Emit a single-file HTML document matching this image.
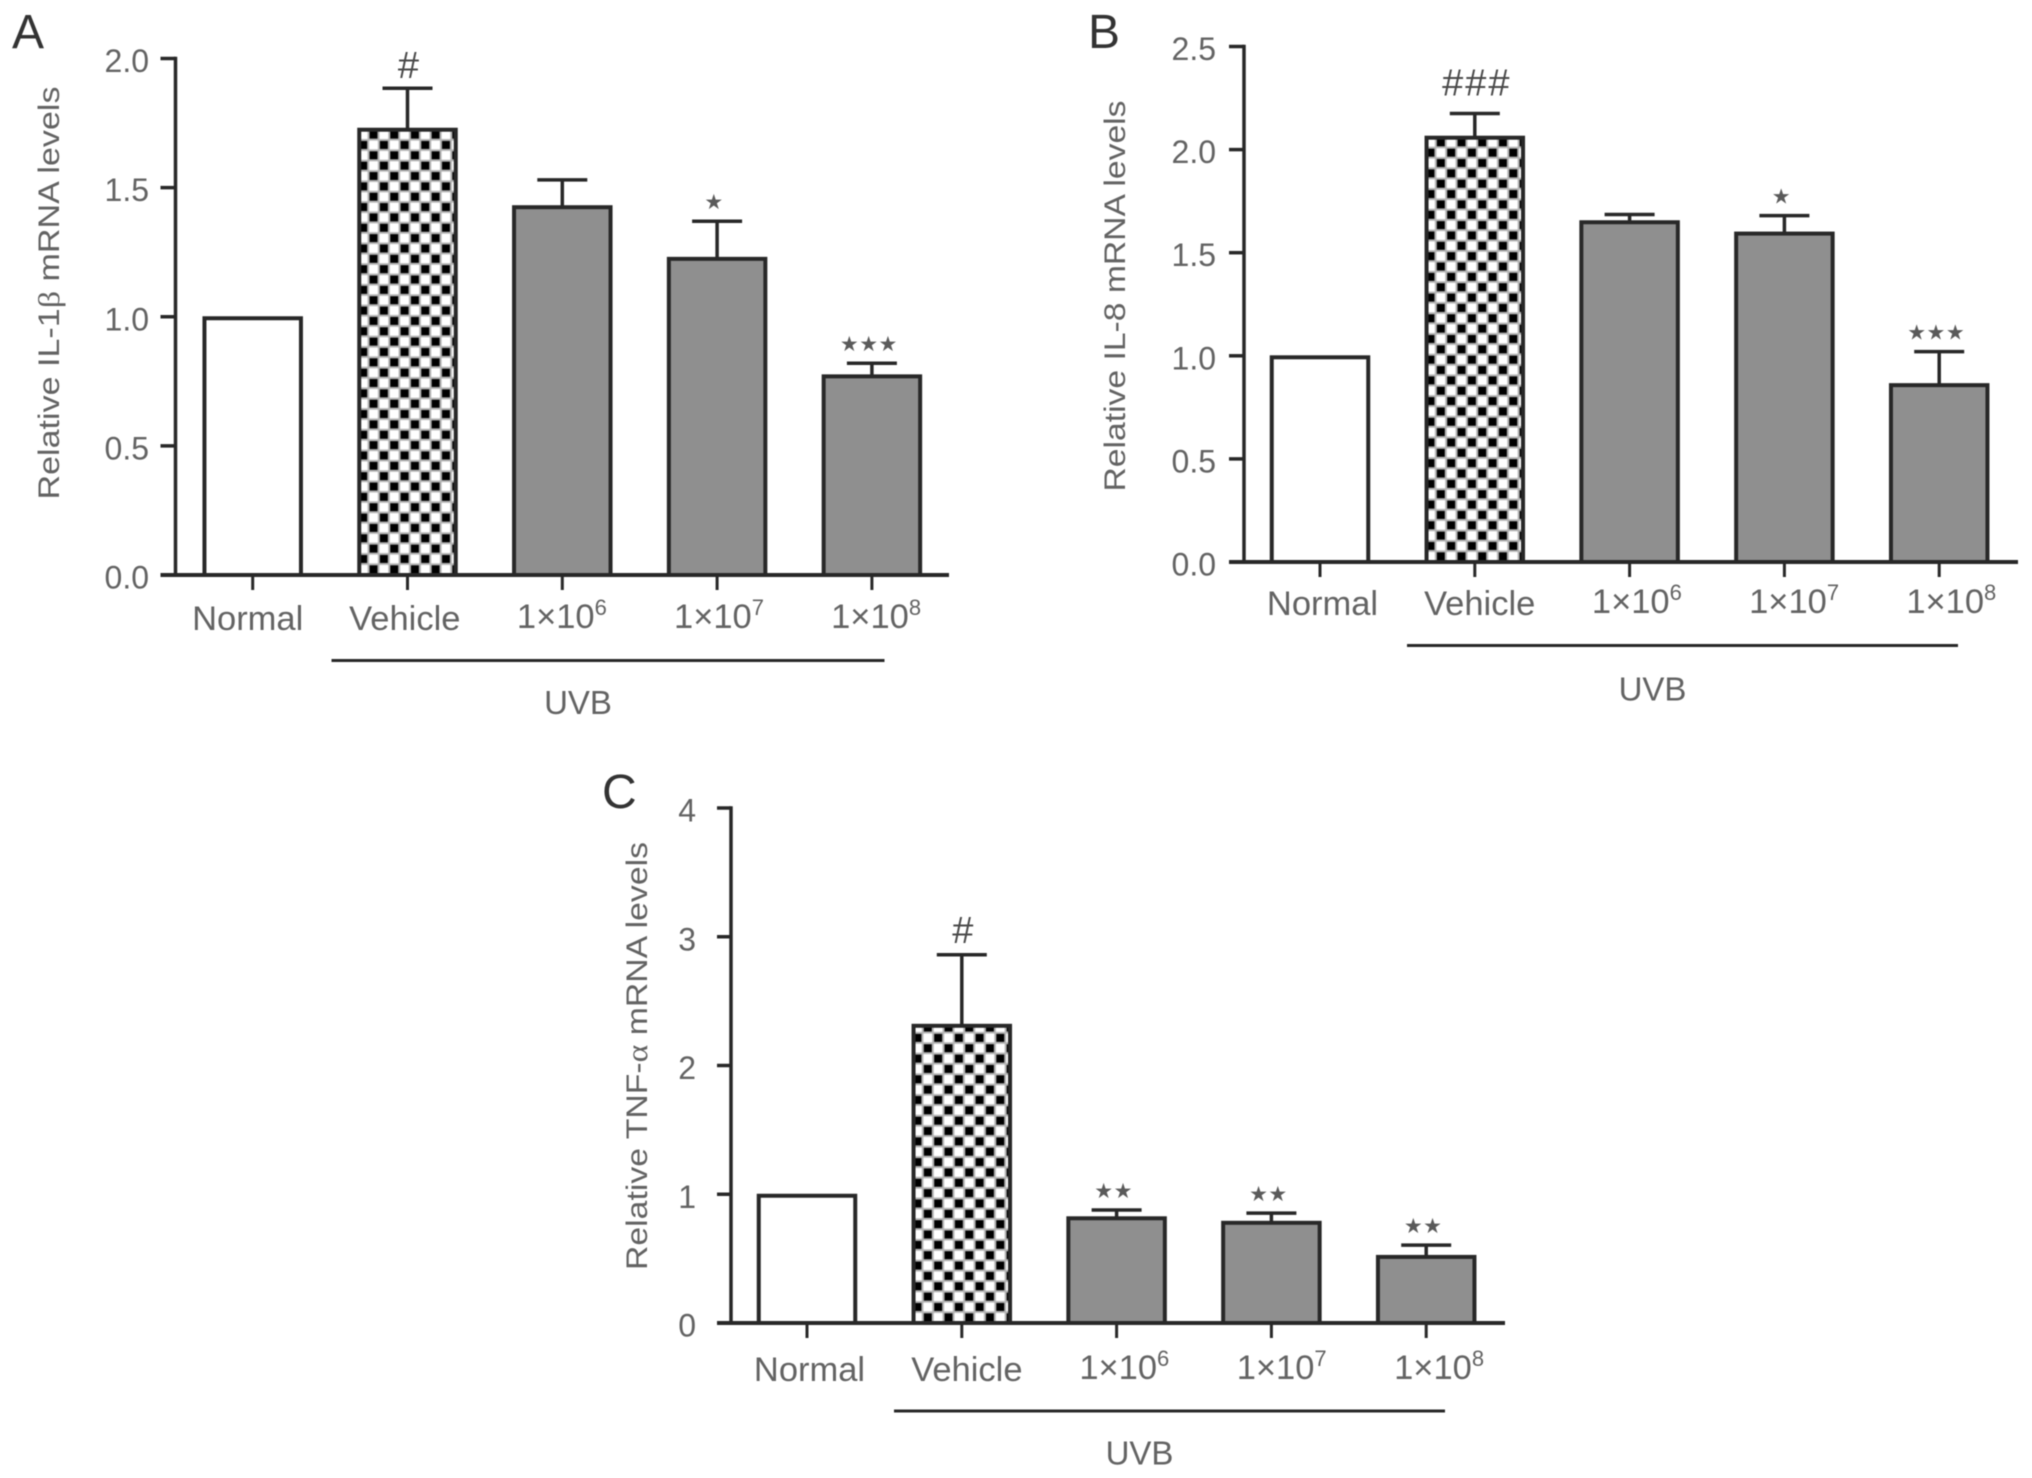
<!DOCTYPE html>
<html lang="en">
<head>
<meta charset="utf-8">
<title>Relative cytokine mRNA levels</title>
<style>
html,body{margin:0;padding:0;background:#fff;width:2032px;height:1478px;overflow:hidden}
svg{display:block;filter:blur(0.55px)}
text{font-family:"Liberation Sans",sans-serif}
</style>
</head>
<body>
<svg id="figure" xmlns="http://www.w3.org/2000/svg" width="2032" height="1478" viewBox="0 0 2032 1478"></svg>
<script>
const categories = ['Normal', 'Vehicle', '1×10', '1×10', '1×10'];
const exponents = ['', '', '6', '7', '8'];

const ticksA = [0, 0.5, 1, 1.5, 2];
const tickLabelsA = ['0.0', '0.5', '1.0', '1.5', '2.0'];
const valuesA = [1.0, 1.73, 1.43, 1.23, 0.775];
const errorTopsA = [null, 1.885, 1.53, 1.37, 0.82];
const marksA = ['', '#', '', '*', '***'];

const ticksB = [0, 0.5, 1, 1.5, 2, 2.5];
const tickLabelsB = ['0.0', '0.5', '1.0', '1.5', '2.0', '2.5'];
const valuesB = [1.0, 2.065, 1.655, 1.6, 0.865];
const errorTopsB = [null, 2.175, 1.685, 1.68, 1.02];
const marksB = ['', '###', '', '*', '***'];

const ticksC = [0, 1, 2, 3, 4];
const tickLabelsC = ['0', '1', '2', '3', '4'];
const valuesC = [1.0, 2.32, 0.825, 0.79, 0.525];
const errorTopsC = [null, 2.86, 0.878, 0.853, 0.605];
const marksC = ['', '#', '**', '**', '**'];

const NS = 'http://www.w3.org/2000/svg';
const figure = document.getElementById('figure');
const LINE = '#282828';
const TEXT = '#636363';

function make(parent, tag, attrs, content) {
  const node = document.createElementNS(NS, tag);
  for (const key in attrs) node.setAttribute(key, attrs[key]);
  if (content !== undefined) node.textContent = content;
  parent.appendChild(node);
  return node;
}

function drawPanel(p, ticks, tickLabels, values, errorTops, marks) {
  const yMax = ticks[ticks.length - 1];
  const yScale = v => p.y0 - (v / yMax) * (p.y0 - p.yTop);
  const xScale = i => p.firstX + i * p.step;
  const barW = 96.5;
  const capW = 50;
  const cell = 10.35;

  const g = make(figure, 'g', {});
  
  

  const defs = make(g, 'defs', {});
  const patId = 'checker-' + p.key;
  const pat = make(defs, 'pattern', {
    id: patId, patternUnits: 'userSpaceOnUse',
    width: cell * 2, height: cell * 2,
    patternTransform: 'translate(' + (xScale(1) - 50 + 0.5) + ' ' + (p.y0 - 21.2) + ')'
  });
  make(pat, 'rect', { x: 0, y: 0, width: cell * 2, height: cell * 2, fill: '#b4b4b4' });
  make(pat, 'rect', { x: 1.2, y: 1.2, width: cell - 2.4, height: cell - 2.4, fill: '#000' });
  make(pat, 'rect', { x: cell + 1.2, y: cell + 1.2, width: cell - 2.4, height: cell - 2.4, fill: '#000' });
  make(pat, 'rect', { x: cell + 0.8, y: 0.8, width: cell - 1.6, height: cell - 1.6, fill: '#fff' });
  make(pat, 'rect', { x: 0.8, y: cell + 0.8, width: cell - 1.6, height: cell - 1.6, fill: '#fff' });

  const letter = make(g, 'text', { x: p.letterX, y: p.letterY, 'font-size': 48, fill: '#333' }, p.key);
  
  

  values.forEach((v, i) => {
    const cx = xScale(i);
    const top = yScale(v) + 1.5;
    if (errorTops[i] !== null) {
      const ey = yScale(errorTops[i]);
      const stem = make(g, 'line', { x1: cx, x2: cx, y1: ey, y2: top, stroke: LINE, 'stroke-width': 3.5 });
      
      
      const cap = make(g, 'line', { x1: cx - capW / 2, x2: cx + capW / 2, y1: ey, y2: ey, stroke: LINE, 'stroke-width': 3.5 });
      
      
    }
    const fill = i === 0 ? '#fff' : i === 1 ? 'url(#' + patId + ')' : '#8f8f8f';
    const bar = make(g, 'rect', {
      x: cx - barW / 2, y: top, width: barW, height: p.y0 - top,
      fill: fill, stroke: LINE, 'stroke-width': 4
    });
    
    

    if (marks[i]) {
      const ey = yScale(errorTops[i]);
      const hash = marks[i][0] === '#';
      const shown = hash ? marks[i] : marks[i].replace(/\*/g, '★');
      const mark = make(g, 'text', {
        x: hash ? cx + 2 : cx - 3,
        y: hash ? ey - p.hashLift : ey - 12,
        'text-anchor': 'middle',
        'font-size': hash ? 38 : 21,
        'letter-spacing': hash ? 2 : 0.5,
        fill: hash ? '#4a4a4a' : '#5a5a5a',
        style: hash ? '' : 'font-family:"DejaVu Sans",sans-serif'
      }, shown);
      
      
    }

    const tick = make(g, 'line', { x1: cx, x2: cx, y1: p.y0, y2: p.y0 + 15, stroke: LINE, 'stroke-width': 3 });
    
    

    const label = make(g, 'text', {
      x: cx + p.labelStart + i * p.labelStep,
      y: p.y0 + p.labelDy + (exponents[i] ? -2 : 0),
      'text-anchor': 'middle', 'font-size': 34.5, fill: TEXT
    }, categories[i]);
    
    
    if (exponents[i]) {
      const sup = make(label, 'tspan', { dy: -13, 'font-size': 22 }, exponents[i]);
      
      
    }
  });

  const yAxis = make(g, 'line', { x1: p.axisX, x2: p.axisX, y1: p.yTop - 1.75, y2: p.y0, stroke: LINE, 'stroke-width': 3.5 });
  
  
  const xAxis = make(g, 'line', { x1: p.axisX - p.tickLen, x2: p.axisEnd, y1: p.y0, y2: p.y0, stroke: LINE, 'stroke-width': 4 });
  
  

  ticks.forEach((t, i) => {
    const y = yScale(t);
    const tick = make(g, 'line', { x1: p.axisX - p.tickLen, x2: p.axisX, y1: y, y2: y, stroke: LINE, 'stroke-width': 3.5 });
    
    
    const label = make(g, 'text', {
      x: p.tickLabelX, y: y + 13.5, 'text-anchor': 'end', 'font-size': 32, fill: TEXT
    }, tickLabels[i]);
    
    
  });

  const title = make(g, 'text', {
    transform: 'translate(' + p.titleX + ' ' + p.titleY + ') rotate(-90)',
    'text-anchor': 'middle', 'font-size': 30, fill: TEXT,
    textLength: p.titleLen, lengthAdjust: 'spacingAndGlyphs'
  });
  
  
  make(title, 'tspan', {}, p.titleA);
  make(title, 'tspan', { style: 'font-family:"Liberation Serif",serif' }, p.titleGreek);
  make(title, 'tspan', {}, p.titleB);

  const rule = make(g, 'line', { x1: p.ruleA, x2: p.ruleB, y1: p.y0 + p.ruleDy, y2: p.y0 + p.ruleDy, stroke: LINE, 'stroke-width': 3 });
  
  
  const uvb = make(g, 'text', { x: (p.ruleA + p.ruleB) / 2 - 30, y: p.y0 + p.uvbDy, 'text-anchor': 'middle', 'font-size': 33, fill: TEXT }, 'UVB');
  
  
}

drawPanel({
  key: 'A', y0: 575, yTop: 58.5, axisX: 175.5, axisEnd: 949, tickLen: 15, tickLabelX: 149,
  firstX: 252.7, step: 154.8, labelStart: -5, labelStep: 2.3, labelDy: 55, ruleDy: 85.5, uvbDy: 139, hashLift: 10,
  letterX: 12, letterY: 48, titleX: 59, titleY: 293, titleLen: 413,
  titleA: 'Relative IL-1', titleGreek: 'β', titleB: ' mRNA levels', ruleA: 331.5, ruleB: 884.5
}, ticksA, tickLabelsA, valuesA, errorTopsA, marksA);

drawPanel({
  key: 'B', y0: 562, yTop: 46.5, axisX: 1244, axisEnd: 2018, tickLen: 15, tickLabelX: 1216,
  firstX: 1320, step: 154.8, labelStart: 2.5, labelStep: 2.4, labelDy: 53, ruleDy: 83.5, uvbDy: 138.5, hashLift: 18,
  letterX: 1088, letterY: 48, titleX: 1125, titleY: 296, titleLen: 391,
  titleA: 'Relative IL-8 mRNA levels', titleGreek: '', titleB: '', ruleA: 1407, ruleB: 1958
}, ticksB, tickLabelsB, valuesB, errorTopsB, marksB);

drawPanel({
  key: 'C', y0: 1323, yTop: 808, axisX: 731, axisEnd: 1505, tickLen: 14, tickLabelX: 696,
  firstX: 807, step: 154.8, labelStart: 2.5, labelStep: 2.6, labelDy: 58, ruleDy: 88, uvbDy: 141.5, hashLift: 12,
  letterX: 602, letterY: 808, titleX: 647, titleY: 1056, titleLen: 428,
  titleA: 'Relative TNF-', titleGreek: 'α', titleB: ' mRNA levels', ruleA: 894, ruleB: 1445
}, ticksC, tickLabelsC, valuesC, errorTopsC, marksC);
</script>
</body>
</html>
